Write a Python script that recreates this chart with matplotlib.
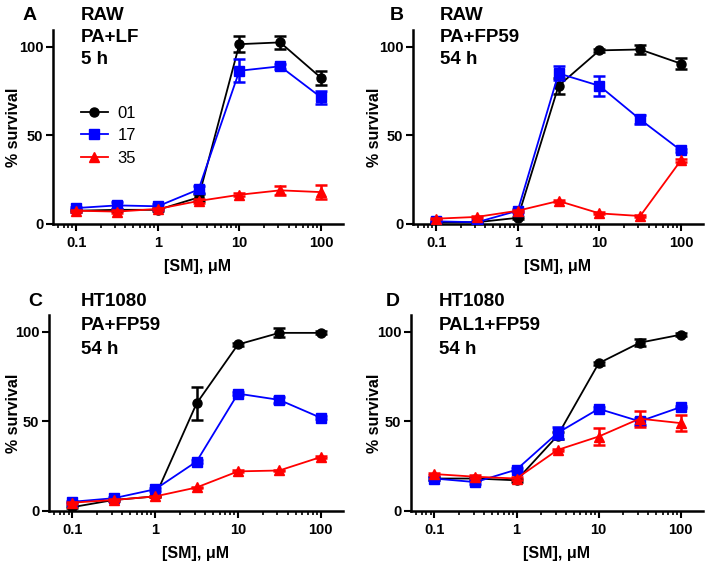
import matplotlib
matplotlib.use("Agg")
import matplotlib.pyplot as plt
import numpy as np
from matplotlib.ticker import LogLocator, FixedLocator, NullFormatter
from matplotlib.lines import Line2D

plt.rcParams['font.family'] = ['Liberation Sans', 'DejaVu Sans']

conc = [0.1, 0.316, 1, 3.16, 10, 31.6, 100]
series_names = ["01", "17", "35"]
colors = ["black", "#0000ff", "#ff0000"]
markers = ["o", "s", "^"]

# Panel A: RAW, PA+LF, 5 h
A_vals = [[7.5, 8, 8, 15, 101.5, 102.5, 82.5],
          [9, 10.5, 10, 19.5, 86.5, 89, 71.5],
          [7.5, 7, 8.5, 13, 16.5, 19, 18]]
A_err = [[0.5, 0.5, 0.8, 2, 4.5, 3.5, 3.8],
         [0.8, 2, 1.5, 2, 6.5, 1.5, 3.6],
         [0.5, 0.8, 0.8, 1.2, 0.8, 2.5, 3.8]]
# Panel B: RAW, PA+FP59, 54 h
B_vals = [[1, 1, 3.5, 78, 98, 98.5, 90.5],
          [1.5, 1, 7.5, 85, 78, 59, 41.5],
          [3, 4, 7.5, 13, 6, 4.5, 36]]
B_err = [[0.3, 0.3, 0.5, 4.6, 0.8, 2.5, 3],
         [0.5, 0.5, 0.8, 4, 5.8, 2.5, 1],
         [0.3, 0.5, 0.5, 0.8, 0.5, 0.5, 0.8]]
# Panel C: HT1080, PA+FP59, 54 h
C_vals = [[2, 6, 8, 60, 93, 99.5, 99.5],
          [5, 7, 12, 27.5, 65.5, 62, 52],
          [4.5, 6, 8, 13, 22, 22.5, 30]]
C_err = [[0.5, 0.5, 0.5, 9.2, 0.8, 2.5, 0.8],
         [0.5, 0.5, 0.8, 0.8, 0.8, 1.5, 0.8],
         [0.5, 0.5, 0.5, 0.5, 0.5, 0.5, 0.5]]
# Panel D: HT1080, PAL1+FP59, 54 h
D_vals = [[18, 18, 17, 42, 82.5, 94, 98.5],
          [18, 16, 23, 43.5, 57, 50, 58],
          [20.5, 19, 18, 34, 41.5, 51.5, 49]]
D_err = [[0.8, 0.8, 0.8, 2, 0.8, 2, 0.8],
         [0.8, 0.8, 0.8, 3.5, 0.8, 2, 0.8],
         [0.8, 0.8, 0.8, 0.8, 4.5, 4.5, 4.5]]

# (letter, title lines, values, errors, axes box px [l, r, t, b], ylabel x px,
#  letter x px, title x px, first title line y px, line spacing px)
panels = [
    ("A", ["RAW", "PA+LF", "5 h"], A_vals, A_err, [53, 343, 30, 224], 21, 30, 81, 15, 22.5),
    ("B", ["RAW", "PA+FP59", "54 h"], B_vals, B_err, [413, 703, 30, 224], 382, 397, 440, 15, 22.5),
    ("C", ["HT1080", "PA+FP59", "54 h"], C_vals, C_err, [49, 343, 315, 510.7], 21, 35, 81, 302, 23.5),
    ("D", ["HT1080", "PAL1+FP59", "54 h"], D_vals, D_err, [411, 703, 315, 510.7], 382, 393, 439, 302, 23.5),
]

W, H = 714, 568
fig = plt.figure(figsize=(W / 100, H / 100), dpi=100)

for (letter, title, vals, errs, (l, r, t, b), ylx, lx, tx, ty, dy) in panels:
    ax = fig.add_axes([l / W, 1 - b / H, (r - l) / W, (b - t) / H])
    for k in range(3):
        ax.errorbar(conc, vals[k], yerr=errs[k], color=colors[k], marker=markers[k],
                    markersize=6.5, lw=1.3, elinewidth=1.8,
                    capsize=4, capthick=1.8, label=series_names[k], zorder=3 + k)
    ax.set_xscale("log")
    ax.set_xlim(0.052, 186)
    ax.set_ylim(0, 109.5)
    ax.spines["top"].set_visible(False)
    ax.spines["right"].set_visible(False)
    for s in ["left", "bottom"]:
        ax.spines[s].set_linewidth(1.8)
    ax.xaxis.set_major_locator(FixedLocator([0.1, 1, 10, 100]))
    ax.set_xticklabels(["0.1", "1", "10", "100"])
    ax.xaxis.set_minor_locator(LogLocator(base=10, subs=np.arange(2, 10), numticks=20))
    ax.xaxis.set_minor_formatter(NullFormatter())
    ax.set_yticks([0, 50, 100])
    ax.tick_params(axis="both", which="major", direction="out", length=5, width=1.5,
                   labelsize=10.5, pad=2)
    ax.tick_params(axis="x", which="major", pad=4)
    ax.tick_params(axis="x", which="minor", direction="out", length=3, width=1.2)
    for lab in ax.get_xticklabels() + ax.get_yticklabels():
        lab.set_fontweight("bold")
    ax.set_xlabel("[SM], \u03bcM", fontsize=11.5, fontweight="bold", labelpad=6)
    ax.set_ylabel("% survival", fontsize=11.5, fontweight="bold")
    ax.yaxis.set_label_coords((ylx - l) / (r - l), 0.5)
    # panel letter and title
    fig.text(lx / W, 1 - ty / H, letter, fontsize=14, fontweight="bold",
             ha="center", va="center")
    for j, line in enumerate(title):
        fig.text(tx / W, 1 - (ty + j * dy) / H, line, fontsize=13.5,
                 fontweight="bold", ha="left", va="center")
    if letter == "A":
        handles = [Line2D([], [], color=colors[k], marker=markers[k], markersize=6.5, lw=1.3)
                   for k in range(3)]
        ax.legend(handles, series_names, loc="upper left", bbox_to_anchor=(0.073, 0.645),
                  frameon=False, fontsize=12, handlelength=1.6, handletextpad=0.6,
                  labelspacing=0.45, borderaxespad=0)

fig.savefig("out.png", dpi=100)
